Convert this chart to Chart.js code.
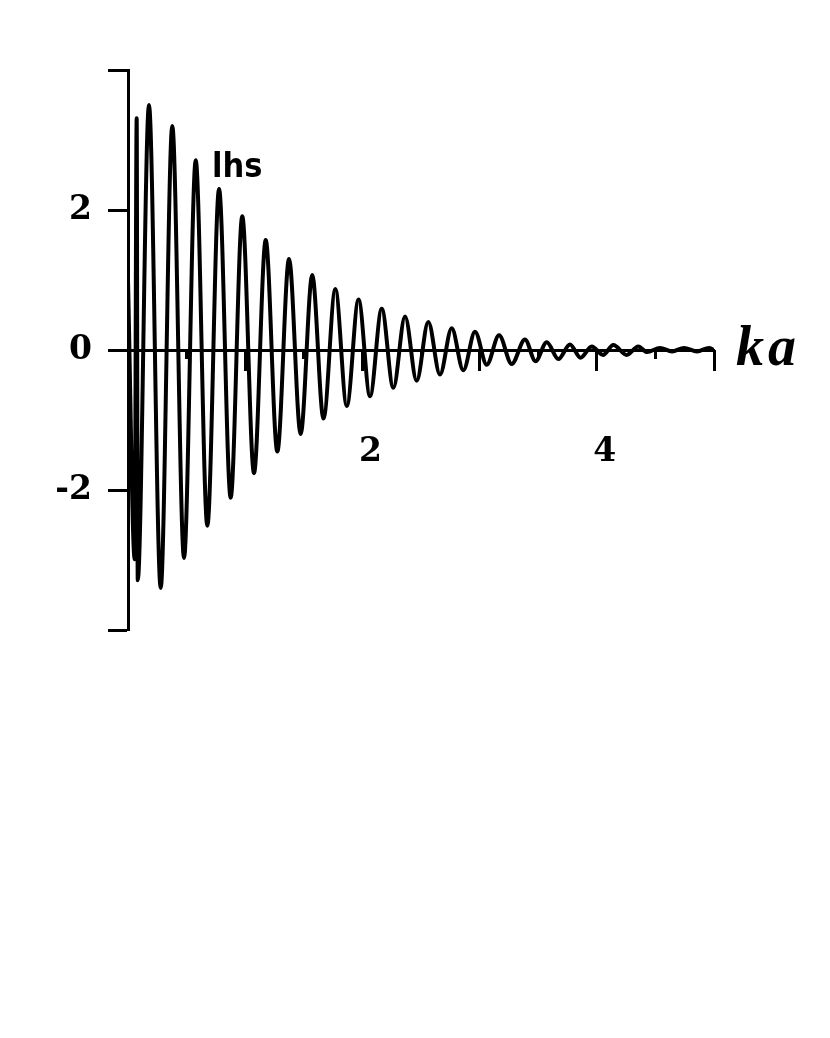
<!DOCTYPE html>
<html>
<head>
<meta charset="utf-8">
<script src="https://cdn.jsdelivr.net/npm/chart.js@4/dist/chart.umd.min.js"></script>
<style>
  html, body { margin: 0; padding: 0; background: #fff; }
  canvas { display: block; }
</style>
</head>
<body>
<canvas id="lhsChart" width="830" height="1038"></canvas>
<script>
// extrema of the lhs curve
var kaValues = [0, 0.057, 0.074, 0.083, 0.179, 0.279, 0.378, 0.478, 0.578, 0.677,
                0.777, 0.876, 0.975, 1.075, 1.175, 1.274, 1.374, 1.473, 1.572, 1.668,
                1.769, 1.867, 1.967, 2.065, 2.165, 2.264, 2.364, 2.463, 2.562, 2.662,
                2.762, 2.861, 2.961, 3.061, 3.166, 3.274, 3.387, 3.477, 3.573, 3.672,
                3.771, 3.861, 3.957, 4.053, 4.141, 4.255, 4.354, 4.428, 4.539, 4.642,
                4.744, 4.855, 4.957, 5.0];
var lhsValues = [1.0, -2.99, 3.31, -3.29, 3.50, -3.40, 3.20, -2.97, 2.71, -2.51,
                 2.30, -2.11, 1.91, -1.76, 1.57, -1.45, 1.30, -1.20, 1.07, -0.98,
                 0.87, -0.80, 0.72, -0.66, 0.59, -0.54, 0.48, -0.44, 0.40, -0.35,
                 0.31, -0.29, 0.26, -0.21, 0.21, -0.20, 0.15, -0.16, 0.11, -0.13,
                 0.08, -0.11, 0.05, -0.07, 0.07, -0.07, 0.05, -0.03, 0.03, -0.02,
                 0.03, -0.02, 0.03, 0.0];
var xTickLabels = [2, 4];
var yTickLabels = [-2, 0, 2];
var curveLabel = "lhs";
var axisLabel = "ka";

var tickFont = {family: "'DejaVu Serif'", size: 33, weight: "bold"};

var points = kaValues.map(function (k, i) {
  return {x: k, y: lhsValues[i]};
});

// draws the "lhs" tag and the "ka" axis name
var textPlugin = {
  id: "texts",
  afterDraw: function (chart) {
    var ctx = chart.ctx;
    var xs = chart.scales.x, ys = chart.scales.y;
    ctx.save();
    ctx.fillStyle = "#000";
    ctx.textBaseline = "alphabetic";
    ctx.font = "bold 34px 'DejaVu Sans Condensed', 'DejaVu Sans'";
    ctx.fillText(curveLabel, xs.getPixelForValue(0.717), ys.getPixelForValue(2.47));
    ctx.font = "bold italic 56px 'Liberation Serif'";
    ctx.letterSpacing = "4px";
    ctx.fillText(axisLabel, xs.right + 22, ys.getPixelForValue(0) + 15);
    ctx.restore();
  }
};

new Chart("lhsChart", {
  type: "line",
  data: {
    datasets: [{
      data: points,
      borderColor: "#000",
      borderWidth: 4,
      pointRadius: 0,
      fill: false,
      cubicInterpolationMode: "monotone"
    }]
  },
  options: {
    responsive: false,
    animation: false,
    layout: {padding: {left: 0, top: 70, right: 116, bottom: 408}},
    plugins: {legend: {display: false}, tooltip: {enabled: false}},
    scales: {
      x: {
        type: "linear",
        position: {y: 0},
        min: 0,
        max: 5,
        grid: {drawOnChartArea: false, drawTicks: true, tickLength: 19, tickWidth: 3, tickColor: "#000"},
        border: {color: "#000", width: 3},
        ticks: {
          stepSize: 1,
          color: "#000",
          font: tickFont,
          padding: 64,
          labelOffset: 8,
          maxRotation: 0,
          callback: function (v) { return xTickLabels.indexOf(v) >= 0 ? String(v) : ""; }
        }
      },
      x2: {
        type: "linear",
        axis: "x",
        position: {y: 0},
        min: 0,
        max: 5,
        grid: {drawOnChartArea: false, drawTicks: true, tickLength: 9, tickWidth: 3, tickColor: "#000"},
        border: {display: false},
        ticks: {stepSize: 0.5, callback: function () { return ""; }}
      },
      y: {
        type: "linear",
        position: "left",
        min: -4,
        max: 4,
        afterFit: function (scale) { scale.width = 128; },
        grid: {drawOnChartArea: false, drawTicks: true, tickLength: 20, tickWidth: 3, tickColor: "#000"},
        border: {color: "#000", width: 3},
        ticks: {
          stepSize: 2,
          color: "#000",
          font: tickFont,
          padding: 16,
          callback: function (v) { return yTickLabels.indexOf(v) >= 0 ? String(v) : ""; }
        }
      }
    }
  },
  plugins: [textPlugin]
});
</script>
</body>
</html>
